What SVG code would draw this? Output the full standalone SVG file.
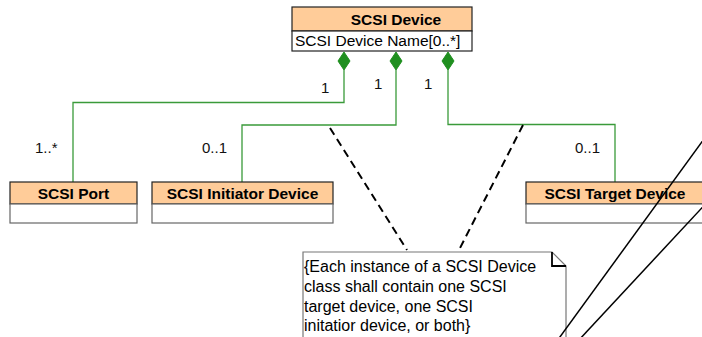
<svg xmlns="http://www.w3.org/2000/svg" width="702" height="337" viewBox="0 0 702 337">
<style>
.hdr{fill:#FFCC99;stroke:#222;stroke-width:1.2}
.body{fill:#fff;stroke:#666;stroke-width:1.2}
.title{font-family:"Liberation Sans",Arial,sans-serif;font-size:15.5px;font-weight:bold;fill:#000;text-anchor:middle}
.txt{font-family:"Liberation Sans",Arial,sans-serif;font-size:15.5px;fill:#000}
.note{font-family:"Liberation Sans",Arial,sans-serif;font-size:16px;fill:#000}
.mult{font-family:"Liberation Sans",Arial,sans-serif;font-size:15px;fill:#111}
.assoc{fill:none;stroke:#3a9a3a;stroke-width:1.3}
.dia{fill:#1f8f1f;stroke:#1f8f1f}
.dash{fill:none;stroke:#000;stroke-width:2;stroke-dasharray:8,5}
.line{fill:none;stroke:#000;stroke-width:1.5}
</style>
<rect width="702" height="337" fill="#fff"/>
<g id="connectors">
<path class="assoc" d="M344,70 V102.5 H73 V182"/>
<path class="assoc" d="M396,70 V125 H242 V182"/>
<path class="assoc" d="M448,70 V124.5 H615 V182"/>
<path class="dia" d="M344,52 L350,61 L344,70 L338,61 Z"/>
<path class="dia" d="M396,52 L402,61 L396,70 L390,61 Z"/>
<path class="dia" d="M448,52 L454,61 L448,70 L442,61 Z"/>
<text class="mult" x="321" y="93">1</text>
<text class="mult" x="374" y="89">1</text>
<text class="mult" x="424" y="89">1</text>
<text class="mult" x="35" y="153">1..*</text>
<text class="mult" x="202" y="153">0..1</text>
<text class="mult" x="575" y="153">0..1</text>
<path class="dash" d="M330,128 L407,250"/>
<path class="dash" d="M523,125 L459,250"/>
</g>
<g id="scsi-device">
<rect class="hdr" x="292" y="7" width="180" height="24"/>
<rect class="body" x="292" y="31" width="180" height="20" style="stroke:#222"/>
<text class="title" x="396" y="25">SCSI Device</text>
<text class="txt" x="295" y="46">SCSI Device Name[0..*]</text>
</g>
<g id="scsi-port">
<rect class="hdr" x="10" y="182" width="127" height="22"/>
<rect class="body" x="10" y="204" width="127" height="19"/>
<text class="title" x="73.5" y="199">SCSI Port</text>
</g>
<g id="scsi-initiator-device">
<rect class="hdr" x="152" y="182" width="181" height="22"/>
<rect class="body" x="152" y="204" width="181" height="19"/>
<text class="title" x="242.5" y="199">SCSI Initiator Device</text>
</g>
<g id="scsi-target-device">
<rect class="hdr" x="526" y="182" width="184" height="22"/>
<rect class="body" x="526" y="204" width="184" height="19"/>
<text class="title" x="615" y="199">SCSI Target Device</text>
</g>
<g id="note">
<path d="M303,345 V252 H552 L566,266 V345" fill="#fff" stroke="#777" stroke-width="1.2"/>
<path d="M552,252 V266 H566" fill="none" stroke="#000" stroke-width="1.8"/>
<text class="note" x="304" y="272">{Each instance of a SCSI Device</text>
<text class="note" x="304" y="292">class shall contain one SCSI</text>
<text class="note" x="304" y="312">target device, one SCSI</text>
<text class="note" x="304" y="331">initatior device, or both}</text>
</g>
<g id="lines">
<path class="line" d="M712,128 L557,341"/>
<path class="line" d="M712,197 L578,341"/>
</g>
</svg>
